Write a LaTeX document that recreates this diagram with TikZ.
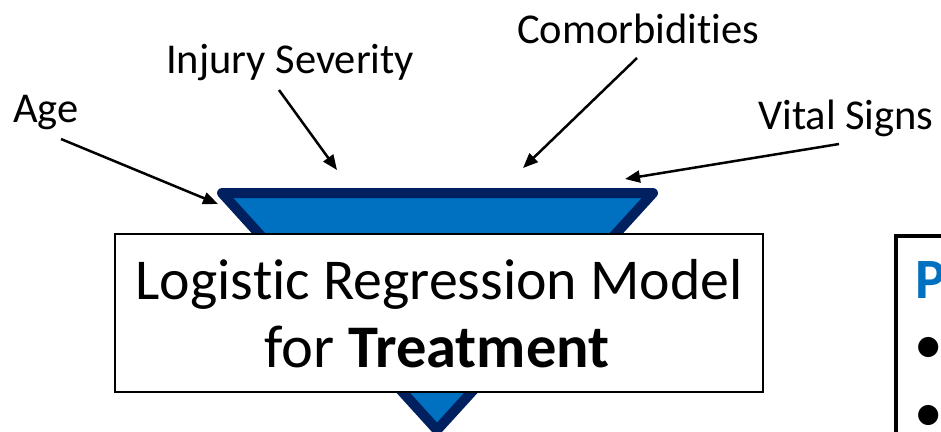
\documentclass[tikz,border=0pt]{standalone}
\usepackage{fontspec}
\setmainfont{Carlito}[Ligatures={NoCommon,NoDiscretionary,NoContextual}]
\usetikzlibrary{arrows.meta}
\definecolor{funnelfill}{HTML}{0070C0}
\definecolor{funneledge}{HTML}{002060}
\definecolor{titleblue}{HTML}{0070C0}
\tikzset{
  lbl/.style={anchor=base west, inner sep=0pt, font=\fontsize{42.5}{48}\selectfont},
  maintext/.style={anchor=base, inner sep=0pt, font=\fontsize{57.8}{63}\selectfont},
  feed/.style={line width=2.5pt, -{Triangle[length=15pt,width=12pt]}},
  funnel/.style={fill=funnelfill, draw=funneledge, line width=10pt, line join=round},
  modelbox/.style={draw=black, line width=2pt, fill=white, minimum width=648pt, minimum height=158pt, inner sep=0pt},
  sidetext/.style={anchor=base west, inner sep=0pt, font=\fontsize{57}{63}\selectfont}
}
\begin{document}
\begin{tikzpicture}[x=1pt,y=-1pt]
\useasboundingbox (0,0) rectangle (941,431);
\clip (0,0) rectangle (941,431);
% funnel
\draw[funnel] (222,193) -- (653,193) -- (437,430) -- cycle;
% model box
\node[modelbox] (box) at (439,313) {};
\node[maintext] (line1) at (439,299) {Logis\kern0pt tic Regression Model};
\node[maintext, font=\fontsize{60.5}{63}\selectfont] (line2) at (437,367) {for \textbf{Treatment}};
% labels
\node[lbl] (age) at (13,122) {Age};
\node[lbl] (injury) at (166,73) {Injury Severity};
\node[lbl] (comorb) at (517,43) {Comorbidi\kern0pt ti\kern0pt es};
\node[lbl] (vital) at (758,129) {Vital Signs};
% arrow ends
\coordinate (ageS) at (61,139);
\coordinate (ageT) at (218,204);
\coordinate (injS) at (279,90);
\coordinate (injT) at (337,170);
\coordinate (comS) at (637,58);
\coordinate (comT) at (523,168);
\coordinate (vitS) at (839,144);
\coordinate (vitT) at (625,179);
\draw[feed] (ageS) -- (ageT);
\draw[feed] (injS) -- (injT);
\draw[feed] (comS) -- (comT);
\draw[feed] (vitS) -- (vitT);
% right panel (cut off)
\draw[line width=4.5pt] (896,236) rectangle (1200,700);
\node[sidetext, text=titleblue, font=\fontsize{57}{63}\selectfont\bfseries] (ptitle) at (915,298) {P};
\node[sidetext] (b1) at (914,363) {•};
\node[sidetext] (b2) at (914,431) {•};
\end{tikzpicture}
\end{document}
